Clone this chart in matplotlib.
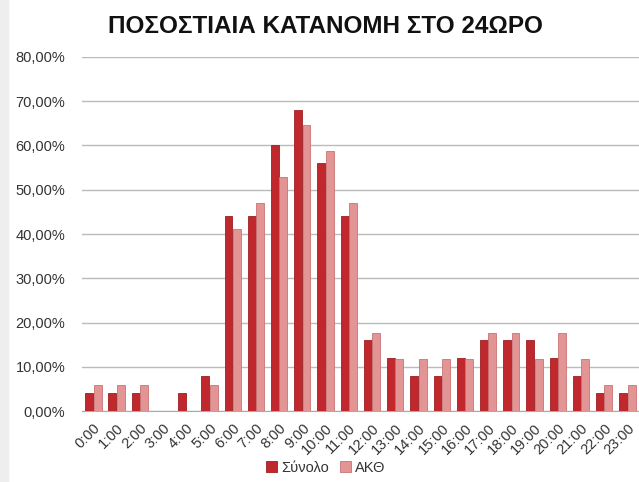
import matplotlib.pyplot as plt
import matplotlib.patches as mpatches
import numpy as np

hours = ['%d:00' % h for h in range(24)]
synolo = [4, 4, 4, 0, 4, 8, 44, 44, 60, 68, 56, 44,
          16, 12, 8, 8, 12, 16, 16, 16, 12, 8, 4, 4]
akth = [5.9, 5.9, 5.9, 0, 0, 5.9, 41.2, 47.1, 52.9, 64.7, 58.8, 47.1,
        17.6, 11.8, 11.8, 11.8, 11.8, 17.6, 17.6, 11.8, 17.6, 11.8, 5.9, 5.9]

plt.rcParams['font.family'] = ['Liberation Sans', 'DejaVu Sans']

fig = plt.figure(figsize=(6.39, 4.82), dpi=100)
fig.patches.append(mpatches.Rectangle((0, 0), 0.013, 1, transform=fig.transFigure,
                                      color='#EEEEEE', zorder=0))
ax = fig.add_axes([0.128, 0.147, 0.872, 0.735])

x = np.arange(len(hours))
w = 0.34
ax.bar(x - 0.18, synolo, w, color='#C0282D', edgecolor='#9E1E22', linewidth=0.6,
       label='Σύνολο', zorder=3)
ax.bar(x + 0.18, akth, w, color='#E39595', edgecolor='#C77474', linewidth=0.6,
       label='ΑΚΘ', zorder=3)

ax.set_xlim(-0.5, 23.5)
ax.set_ylim(0, 80)
ax.set_yticks(range(0, 81, 10))
ax.set_yticklabels(['%d,00%%' % v for v in range(0, 81, 10)], fontsize=10.5, color='#333333')
ax.set_xticks(x)
ax.set_xticklabels(hours, rotation=45, ha='right', rotation_mode='anchor',
                   fontsize=10.5, color='#333333')
ax.tick_params(axis='x', length=0, pad=7)
ax.tick_params(axis='y', length=0, pad=12)
ax.grid(axis='y', color='#BBBBBB', linewidth=1, zorder=0)
for s in ['top', 'right', 'left']:
    ax.spines[s].set_visible(False)
ax.spines['bottom'].set_color('#AAAAAA')

fig.suptitle('ΠΟΣΟΣΤΙΑΙΑ ΚΑΤΑΝΟΜΗ ΣΤΟ 24ΩΡΟ', x=0.51, y=0.968, fontsize=17.5,
             fontweight='bold', color='#111111')
fig.legend(loc='lower center', bbox_to_anchor=(0.51, -0.012), ncol=2, frameon=False,
           fontsize=10.5, handlelength=0.7, handleheight=0.7, columnspacing=0.8,
           handletextpad=0.3, labelcolor='#333333')

fig.savefig('out.png', dpi=100)
